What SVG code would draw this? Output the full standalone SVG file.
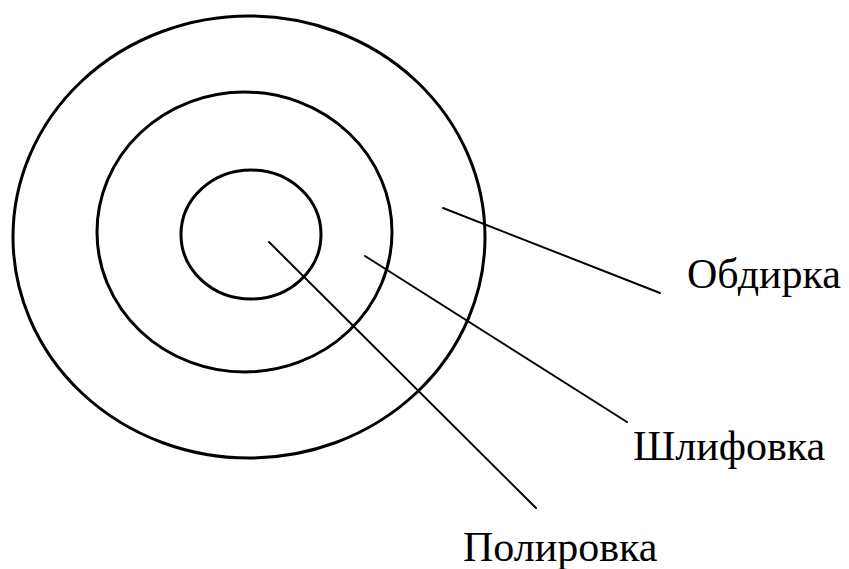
<svg xmlns="http://www.w3.org/2000/svg" width="849" height="569" viewBox="0 0 849 569">
<style>
.ring{fill:none;stroke:#000;stroke-width:3}
.lead{stroke:#000;stroke-width:2;stroke-linecap:round}
.lbl{font-family:"Liberation Serif","Times New Roman",serif;font-size:42px;fill:#000}
</style>
<rect width="849" height="569" fill="#fff"/>
<g id="outer"><ellipse class="ring" cx="249" cy="237" rx="236" ry="221"/></g>
<g id="middle"><ellipse class="ring" cx="244.5" cy="232" rx="147.5" ry="140"/></g>
<g id="inner"><ellipse class="ring" cx="251" cy="234.5" rx="70" ry="64.5"/></g>
<g id="connectors">
<line class="lead" x1="443" y1="208" x2="660" y2="293"/>
<line class="lead" x1="365" y1="256" x2="627" y2="422"/>
<line class="lead" x1="269" y1="242" x2="536" y2="508"/>
</g>
<g id="label-obdirka"><text class="lbl" x="687" y="288">Обдирка</text></g>
<g id="label-shlifovka"><text class="lbl" x="633" y="460">Шлифовка</text></g>
<g id="label-polirovka"><text class="lbl" x="463" y="561">Полировка</text></g>
</svg>
